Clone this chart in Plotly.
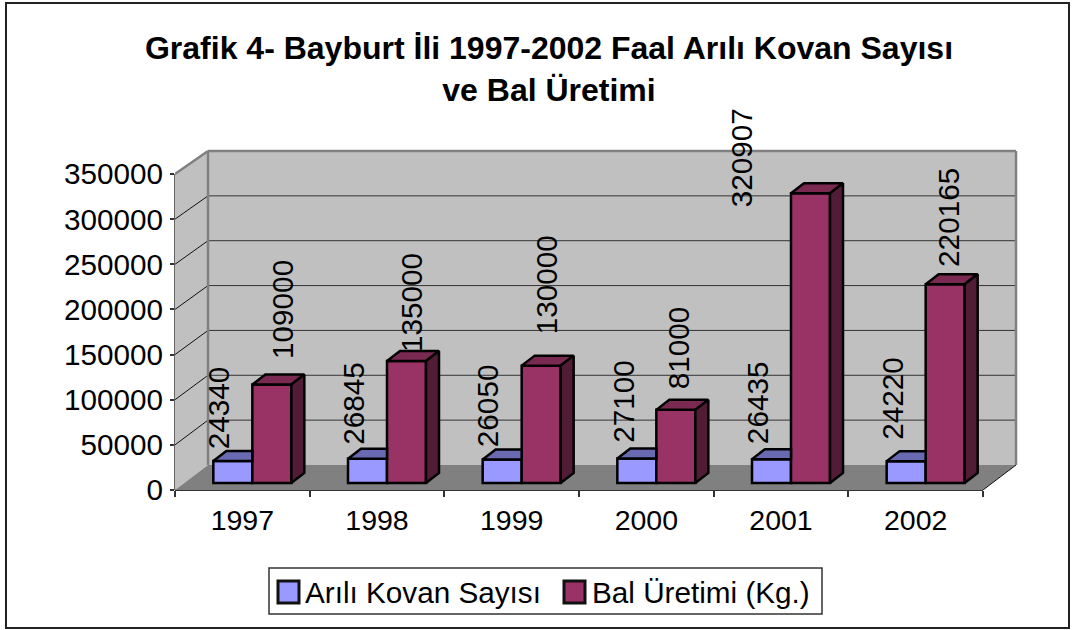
import plotly.graph_objects as go

years = ['1997', '1998', '1999', '2000', '2001', '2002']
kovan = [24340, 26845, 26050, 27100, 26435, 24220]
bal = [109000, 135000, 130000, 81000, 320907, 220165]
y_ticks = [0, 50000, 100000, 150000, 200000, 250000, 300000, 350000]
y_labels = ['0', '50000', '100000', '150000', '200000', '250000', '300000', '350000']
series_names = ['Arılı Kovan Sayısı', 'Bal Üretimi (Kg.)']

# label nudges in px, relative to the top middle of each bar
kovan_shift_x = [-14, -14, -14, -14, -14, -14]
kovan_shift_y = [10, 12, 10, 14, 13, 19]
bal_shift_x = [10, 5, 5, 3, -69, 4]
bal_shift_y = [24, 7, 29, 19, -16, 15]

W, H = 1072, 630
LEFT, RIGHT, TOP, BOTTOM = 175, 1018, 149, 490
CAT_PX = 808 / 6
Y_PX = 316 / 350000
XU = 1 / CAT_PX    # one px in x units
YU = 1 / Y_PX      # one px in y units

FONT = 'Liberation Sans'
BLUE, MAROON = '#9999FF', '#993366'
BAR_W = 39 * XU
BAR_DX, BAR_BASE = 10 * XU, 7 * YU      # bars stand a bit inside the floor
TOP_DX, TOP_DY = 13 * XU, 10 * YU       # bar depth
WALL_DX, WALL_DY = 33 * XU, 25 * YU     # chart depth
WALL_SCALE = 314 / 316
x_front0, x_front1 = -0.5, 5.5
n = len(years)
plot_w, plot_h = RIGHT - LEFT, BOTTOM - TOP


def wall_y(v):
    return WALL_DY + v * WALL_SCALE


def poly(points, **kw):
    path = 'M' + 'L'.join(f'{x},{y}' for x, y in points) + 'Z'
    return dict(type='path', path=path, xref='x', yref='y', layer='below', **kw)


def seg(x0, y0, x1, y1, color='#333333', width=1, xref='x', yref='y'):
    return dict(type='line', x0=x0, y0=y0, x1=x1, y1=y1, xref=xref, yref=yref,
                layer='below', line=dict(color=color, width=width))


def page_rect(x0, y0, x1, y1, fill, line_color, line_width):
    # rectangle given in page px
    return dict(type='rect', xref='paper', yref='paper', layer='below',
                x0=(x0 - LEFT) / plot_w, x1=(x1 - LEFT) / plot_w,
                y0=(BOTTOM - y1) / plot_h, y1=(BOTTOM - y0) / plot_h,
                fillcolor=fill, line=dict(color=line_color, width=line_width))


back_x0, back_x1 = x_front0 + WALL_DX, x_front1 + WALL_DX
shapes = [
    # left wall, back wall, floor
    poly([(x_front0, 0), (back_x0, wall_y(0)), (back_x0, wall_y(350000)), (x_front0, 350000)],
         fillcolor='#C0C0C0', line=dict(width=0)),
    poly([(back_x0, wall_y(0)), (back_x1, wall_y(0)), (back_x1, wall_y(350000)), (back_x0, wall_y(350000))],
         fillcolor='#C0C0C0', line=dict(width=0)),
    poly([(x_front0, 0), (x_front1, 0), (back_x1, wall_y(0)), (back_x0, wall_y(0))],
         fillcolor='#808080', line=dict(width=0)),
]
for v in y_ticks[1:-1]:
    shapes.append(seg(x_front0, v, back_x0, wall_y(v), color='#111111'))
    shapes.append(seg(back_x0, wall_y(v), back_x1, wall_y(v)))
# wall edges
edge = dict(color='#808080', width=2.5)
shapes.append(seg(x_front0, 350000, back_x0, wall_y(350000), edge['color'], edge['width']))
shapes.append(seg(back_x0, wall_y(0), back_x0, wall_y(350000), edge['color'], edge['width']))
shapes.append(seg(back_x0, wall_y(350000), back_x1, wall_y(350000), edge['color'], edge['width']))
shapes.append(seg(back_x1, wall_y(0), back_x1, wall_y(350000), edge['color'], edge['width']))
shapes.append(seg(x_front1, 0, back_x1, wall_y(0), color='#111111'))
# axis lines
shapes.append(seg(0, 0, 0, 350000, color='#333333', width=1.5, xref='paper'))
shapes.append(seg(x_front0, 0, x_front1, 0, color='#333333', width=2, yref='paper'))
# chart frame and legend box
shapes.append(page_rect(6, 3, 1069, 628, 'rgba(0,0,0,0)', '#222222', 2))
shapes.append(page_rect(269, 568, 822, 614, 'white', '#333333', 1.5))
shapes.append(page_rect(278, 581, 299, 603, BLUE, '#111111', 3))
shapes.append(page_rect(564, 581, 585, 603, MAROON, '#111111', 3))

fig = go.Figure()

centers = [i + BAR_DX for i in range(n)]
fig.add_trace(go.Bar(x=centers, y=kovan, base=BAR_BASE, width=BAR_W, offset=-BAR_W, name=series_names[0],
                     marker=dict(color=BLUE, line=dict(color='black', width=2.5)), hoverinfo='skip'))
fig.add_trace(go.Bar(x=centers, y=bal, base=BAR_BASE, width=BAR_W, offset=0, name=series_names[1],
                     marker=dict(color=MAROON, line=dict(color='black', width=2.5)), hoverinfo='skip'))


def faces(points_list, color):
    xs, ys = [], []
    for pts in points_list:
        xs += [p[0] for p in pts] + [pts[0][0], None]
        ys += [p[1] for p in pts] + [pts[0][1], None]
    fig.add_trace(go.Scatter(x=xs, y=ys, mode='lines', fill='toself', fillcolor=color,
                             line=dict(color='black', width=2.5), showlegend=False, hoverinfo='skip'))


# blue top stops where the maroon bar starts
blue_tops, red_tops, red_sides = [], [], []
for c, k, b in zip(centers, kovan, bal):
    t = k + BAR_BASE
    blue_tops.append([(c - BAR_W, t), (c, t), (c, t + TOP_DY), (c - BAR_W + TOP_DX, t + TOP_DY)])
    t = b + BAR_BASE
    x1 = c + BAR_W
    red_tops.append([(c, t), (x1, t), (x1 + TOP_DX, t + TOP_DY), (c + TOP_DX, t + TOP_DY)])
    red_sides.append([(x1, BAR_BASE), (x1 + TOP_DX, BAR_BASE + TOP_DY), (x1 + TOP_DX, t + TOP_DY), (x1, t)])
faces(blue_tops, '#6A6AB2')
faces(red_tops, '#7A2951')
faces(red_sides, '#521C36')

annotations = []
for i in range(n):
    for val, off, sx, sy in ((kovan[i], -BAR_W / 2, kovan_shift_x[i], kovan_shift_y[i]),
                             (bal[i], BAR_W / 2, bal_shift_x[i], bal_shift_y[i])):
        annotations.append(dict(x=centers[i] + off, y=val + BAR_BASE, xref='x', yref='y', text=str(val),
                                textangle=-90, showarrow=False, xanchor='center', yanchor='bottom',
                                xshift=sx, yshift=sy, font=dict(family=FONT, size=29.7, color='black')))
# legend texts
for name, x_px in zip(series_names, [305, 592]):
    annotations.append(dict(x=(x_px - LEFT) / plot_w, y=(BOTTOM - 592) / plot_h, xref='paper', yref='paper', text=name,
                            showarrow=False, xanchor='left', yanchor='middle', borderpad=0, borderwidth=0,
                            font=dict(family=FONT, size=29.7, color='black')))

fig.update_layout(
    width=W, height=H, autosize=False,
    margin=dict(l=LEFT, r=W - RIGHT, t=TOP, b=H - BOTTOM, autoexpand=False, pad=0),
    paper_bgcolor='white', plot_bgcolor='rgba(0,0,0,0)',
    barmode='overlay',
    font=dict(family=FONT, size=29, color='black'),
    title=dict(text='<b>Grafik 4- Bayburt İli 1997-2002 Faal Arılı Kovan Sayısı<br>ve Bal Üretimi</b>',
               x=549 / W, xanchor='center', y=1 - 59 / H, yanchor='top',
               font=dict(family=FONT, size=32, color='black')),
    shapes=shapes,
    annotations=annotations,
    showlegend=False,
    xaxis=dict(range=[-0.5, -0.5 + (RIGHT - LEFT) * XU], tickmode='array', tickvals=list(range(n)), ticktext=years,
               ticks='', showgrid=False, zeroline=False, showline=False, ticklabelstandoff=10,
               tickfont=dict(family=FONT, size=28.5, color='black'),
               minor=dict(tick0=-0.5, dtick=1, ticks='outside', ticklen=6, tickcolor='#333333', tickwidth=1.5, showgrid=False)),
    yaxis=dict(range=[0, (BOTTOM - TOP) * YU], tickmode='array', tickvals=y_ticks, ticktext=y_labels, ticks='outside', ticklen=4,
               tickcolor='#333333', tickwidth=1.5, showgrid=False, zeroline=False, showline=False, ticklabelstandoff=1,
               tickfont=dict(family=FONT, size=29.7, color='black')),
)

fig.write_html("out.html", config=dict(displayModeBar=False),
               post_script="document.body.style.margin='0';document.body.style.overflow='hidden';")
